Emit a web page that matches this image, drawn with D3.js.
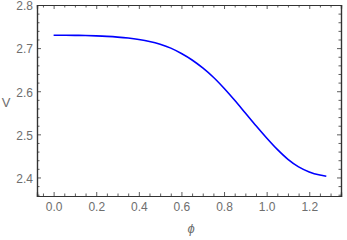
<!DOCTYPE html>
<html>
<head>
<meta charset="utf-8">
<script src="https://cdn.jsdelivr.net/npm/d3@7"></script>
<style>
  body { margin: 0; background: #fff; }
  svg { display: block; }
</style>
</head>
<body>
<svg id="chart" width="347" height="240"></svg>
<script>
// values
const phi = [0, 0.05, 0.1, 0.15, 0.2, 0.25, 0.3, 0.35, 0.4, 0.45, 0.5, 0.55, 0.6, 0.65,
  0.7, 0.75, 0.8, 0.85, 0.9, 0.95, 1.0, 1.05, 1.1, 1.15, 1.2, 1.25, 1.28]
const V = [2.7300, 2.7299, 2.7296, 2.7291, 2.7283, 2.7272, 2.7256, 2.7233, 2.7200, 2.7155,
  2.7090, 2.7000, 2.6875, 2.6725, 2.6540, 2.6325, 2.6070, 2.5790, 2.5495, 2.5200,
  2.4915, 2.4650, 2.4420, 2.4245, 2.4128, 2.4055, 2.4027]
const xTicks = [0, 0.2, 0.4, 0.6, 0.8, 1.0, 1.2]
const yTicks = [2.4, 2.5, 2.6, 2.7, 2.8]

const svg = d3.select('#chart')
const mLeft = 37, mRight = 341, mTop = 5, mBottom = 196
const font = 'Liberation Sans, Arial, sans-serif'
const frameColor = '#333'
const textColor = '#6e6e6e'

const x = d3.scaleLinear().domain([-0.078, 1.349]).range([mLeft, mRight])
const y = d3.scaleLinear().domain([2.357, 2.8]).range([mBottom, mTop])

const xMinor = d3.range(-0.05, 1.35, 0.05).map(v => +v.toFixed(2))
    .filter(v => !xTicks.some(t => Math.abs(t - v) < 1e-6))
const yMinor = d3.range(2.36, 2.8, 0.02).map(v => +v.toFixed(2))
    .filter(v => !yTicks.some(t => Math.abs(t - v) < 1e-6))

// bottom + top
svg.append('g')
    .attr('transform', `translate(0,${mBottom})`)
    .call(d3.axisBottom(x).tickValues(xTicks).tickSize(-4).tickPadding(6).tickFormat(d3.format('.1f')))
svg.append('g')
    .attr('transform', `translate(0,${mBottom})`)
    .call(d3.axisBottom(x).tickValues(xMinor).tickSize(-2.5).tickFormat(''))
svg.append('g')
    .attr('transform', `translate(0,${mTop})`)
    .call(d3.axisTop(x).tickValues(xTicks).tickSize(-4).tickFormat(''))
svg.append('g')
    .attr('transform', `translate(0,${mTop})`)
    .call(d3.axisTop(x).tickValues(xMinor).tickSize(-2.5).tickFormat(''))

// left + right
const yAxis = svg.append('g')
    .attr('transform', `translate(${mLeft},0)`)
    .call(d3.axisLeft(y).tickValues(yTicks).tickSize(-4).tickPadding(4).tickFormat(d3.format('.1f')))
yAxis.selectAll('text').attr('dy', '0.4em')
svg.append('g')
    .attr('transform', `translate(${mLeft},0)`)
    .call(d3.axisLeft(y).tickValues(yMinor).tickSize(-2.5).tickFormat(''))
svg.append('g')
    .attr('transform', `translate(${mRight},0)`)
    .call(d3.axisRight(y).tickValues(yTicks).tickSize(-4).tickFormat(''))
svg.append('g')
    .attr('transform', `translate(${mRight},0)`)
    .call(d3.axisRight(y).tickValues(yMinor).tickSize(-2.5).tickFormat(''))

svg.selectAll('.domain').attr('stroke', frameColor).attr('stroke-width', 1.2)
svg.selectAll('.tick line').attr('stroke', frameColor).attr('stroke-width', 0.8)
svg.selectAll('.tick text')
    .attr('fill', textColor)
    .style('font-family', font)
    .style('font-size', '12px')

const line = d3.line()
    .x((d, i) => x(phi[i]))
    .y(d => y(d))
    .curve(d3.curveMonotoneX)

svg.append('path')
    .datum(V)
    .attr('fill', 'none')
    .attr('stroke', '#0000ff')
    .attr('stroke-width', 1.6)
    .attr('d', line)

svg.append('text')
    .attr('x', 6).attr('y', 107)
    .attr('text-anchor', 'middle')
    .attr('fill', textColor)
    .style('font-family', font)
    .style('font-size', '13px')
    .text('V')

svg.append('text')
    .attr('x', 191).attr('y', 233)
    .attr('text-anchor', 'middle')
    .attr('fill', textColor)
    .style('font-family', font)
    .style('font-style', 'italic')
    .style('font-size', '13px')
    .text('ϕ')
</script>
</body>
</html>
